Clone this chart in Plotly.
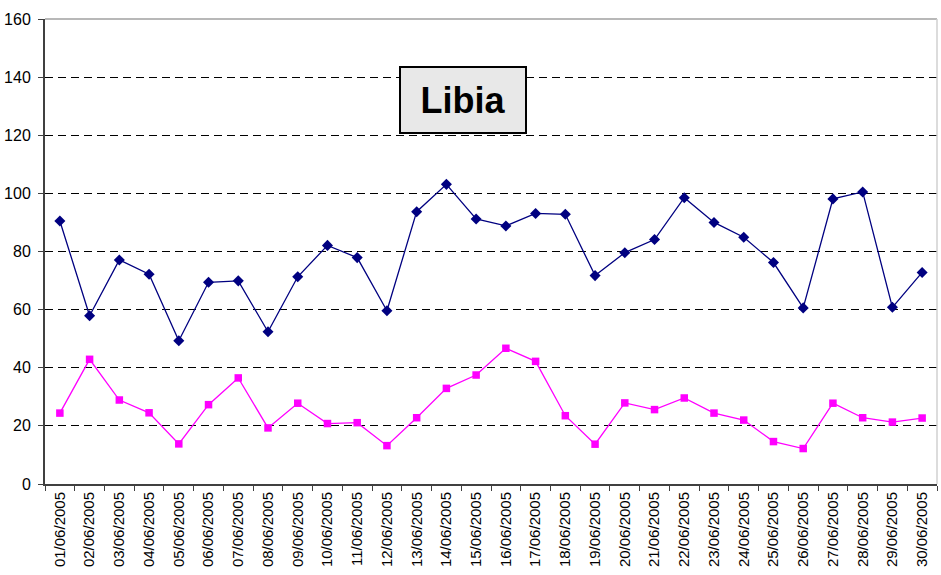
import plotly.graph_objects as go

dates = [f"{d:02d}/06/2005" for d in range(1, 31)]
serie_blu = [90.5, 57.9, 77.1, 72.2, 49.3, 69.4, 69.9, 52.4, 71.3, 82.1,
             77.9, 59.6, 93.7, 103.1, 91.2, 88.8, 93.1, 92.8, 71.7, 79.6,
             84.1, 98.5, 90.0, 84.9, 76.2, 60.6, 98.1, 100.5, 60.8, 72.8]
serie_magenta = [24.4, 42.9, 28.9, 24.5, 13.8, 27.3, 36.5, 19.3, 27.8, 20.8,
                 21.1, 13.2, 22.8, 32.9, 37.5, 46.7, 42.2, 23.5, 13.7, 27.9,
                 25.6, 29.6, 24.4, 22.0, 14.6, 12.2, 27.8, 22.8, 21.3, 22.7]
y_ticks = [0, 20, 40, 60, 80, 100, 120, 140, 160]
title_text = "Libia"

FONT = "Arial, Liberation Sans, sans-serif"

fig = go.Figure()
fig.add_trace(go.Scatter(x=dates, y=serie_blu, mode="lines+markers",
                         line=dict(color="#000080", width=1.3),
                         marker=dict(symbol="diamond", size=8.5, color="#000080"),
                         showlegend=False))
fig.add_trace(go.Scatter(x=dates, y=serie_magenta, mode="lines+markers",
                         line=dict(color="#FF00FF", width=1.3),
                         marker=dict(symbol="square", size=7.5, color="#FF00FF"),
                         showlegend=False))

fig.update_layout(
    width=941, height=575,
    margin=dict(l=45, r=4, t=19, b=91),
    paper_bgcolor="white", plot_bgcolor="white",
    font=dict(family=FONT, color="black"),
    xaxis=dict(type="category", range=[-0.5, 29.5], tickangle=-90,
               tickson="boundaries", ticks="outside", ticklen=5,
               tickcolor="#404040", showline=True, linecolor="#404040",
               linewidth=2, showgrid=False, tickfont=dict(size=15),
               automargin=False, fixedrange=True),
    yaxis=dict(range=[0, 160], tickvals=y_ticks, ticks="outside", ticklen=5,
               tickcolor="#404040", showline=True, linecolor="#404040",
               linewidth=2, showgrid=True, gridcolor="black", gridwidth=1,
               griddash="8px,5px", zeroline=False, tickfont=dict(size=16),
               automargin=False, ticklabelstandoff=4),
    shapes=[
        dict(type="line", xref="paper", yref="paper", x0=0, x1=1, y0=1, y1=1,
             line=dict(color="#a0a0a0", width=1.5)),
        dict(type="line", xref="paper", yref="paper", x0=1, x1=1, y0=0, y1=1,
             line=dict(color="#d0d0d0", width=1.5)),
    ],
    annotations=[dict(text=f"<b>{title_text}</b>", xref="paper", yref="paper",
                      x=0.469, y=0.899, showarrow=False,
                      font=dict(size=36, color="black", family=FONT),
                      bgcolor="#e8e8e8", bordercolor="black", borderwidth=2,
                      width=122, height=62)],
)

fig.write_html("out.html", config={"displayModeBar": False},
               post_script="document.body.style.margin='0';document.body.style.overflow='hidden';")
